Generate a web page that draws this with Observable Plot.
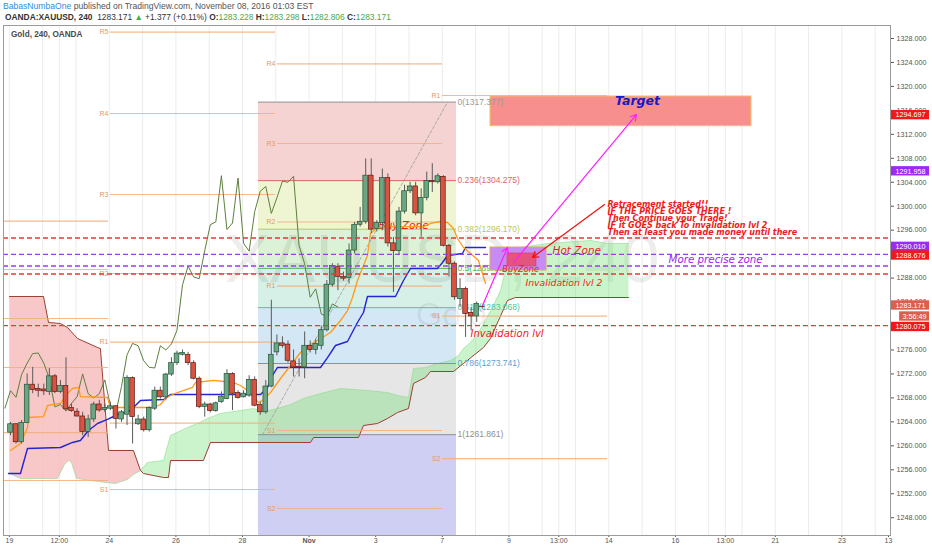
<!DOCTYPE html>
<html><head><meta charset="utf-8">
<script src="https://cdn.jsdelivr.net/npm/d3@7"></script>
<script src="https://cdn.jsdelivr.net/npm/@observablehq/plot@0.6"></script>
<style>
body{margin:0;background:#fff;font-family:"Liberation Sans",Arial,sans-serif;}
#wrap{position:relative;width:932px;height:550px;overflow:hidden;background:#fff}
#h1{position:absolute;left:3px;top:1px;font-size:8.6px;color:#555;white-space:nowrap}
#h2{position:absolute;left:5px;top:12px;font-size:8.4px;color:#333;white-space:nowrap}
#h2 .g{color:#3fae49}
#title{position:absolute;left:11px;top:30px;font-size:8.2px;font-weight:bold;color:#4a4a4a}
#chart{position:absolute;left:0;top:24px}
</style></head><body>
<div id="wrap">
 <div id="h1"><span style="color:#2a8fe0">BabasNumbaOne</span> published on TradingView.com, November 08, 2016 01:03 EST</div>
 <div id="h2"><b>OANDA:XAUUSD, 240</b>&nbsp; 1283.171 <span class="g">&#9650;</span> +1.377 (+0.11%) <b>O:</b><span class="g">1283.228</span> <b>H:</b><span class="g">1283.298</span> <b>L:</b><span class="g">1282.806</span> <b>C:</b><span class="g">1283.171</span></div>
 <div id="chart"></div>
 <div id="title">Gold, 240, OANDA</div>
</div>
<script>
// ---- candles (bar index = position in arrays) ----
const opens  = [1262.2,1263.6,1260.6,1263.8,1270.2,1269.5,1269.4,1269.0,1271.6,1269.0,1270.0,1266.3,1265.7,1264.9,1262.3,1264.4,1266.9,1266.0,1266.2,1266.6,1264.4,1265.2,1271.3,1263.6,1264.4,1262.6,1266.2,1269.2,1268.1,1271.9,1273.8,1275.2,1275.2,1273.8,1271.2,1266.5,1266.9,1265.8,1267.3,1267.8,1272.0,1268.8,1268.1,1268.4,1271.0,1266.8,1265.6,1269.9,1275.6,1277.1,1276.9,1274.1,1273.2,1273.1,1276.7,1276.0,1276.7,1279.3,1286.9,1289.9,1288.2,1288.0,1292.6,1296.9,1297.4,1305.1,1296.2,1297.2,1304.7,1293.8,1292.5,1299.1,1302.5,1303.3,1298.8,1301.4,1304.2,1304.0,1304.9,1293.4,1290.4,1284.5,1286.2,1282.2,1281.6,1283.228];
const highs  = [1263.9,1263.7,1264.2,1272.0,1273.1,1270.3,1270.3,1272.9,1271.9,1270.9,1274.7,1267.0,1266.2,1265.6,1265.1,1267.3,1267.6,1267.0,1267.3,1266.7,1265.9,1271.7,1271.5,1265.1,1264.8,1266.5,1269.8,1269.8,1272.1,1274.7,1275.8,1276.0,1275.6,1274.2,1271.5,1267.3,1267.1,1267.3,1269.0,1272.7,1272.2,1269.2,1269.2,1271.7,1271.5,1267.3,1270.9,1284.3,1278.5,1278.2,1277.5,1276.0,1274.5,1279.0,1277.5,1277.8,1280.0,1287.6,1290.4,1290.4,1289.0,1293.7,1297.3,1299.8,1307.9,1307.9,1297.6,1306.2,1305.4,1294.8,1299.8,1303.5,1304.0,1304.0,1302.9,1305.7,1307.1,1305.4,1305.1,1293.6,1290.7,1287.9,1286.5,1283.1,1284.0,1283.298];
const lows   = [1261.7,1260.3,1260.3,1263.7,1268.7,1268.1,1268.4,1268.4,1268.7,1268.7,1265.9,1265.6,1264.8,1261.7,1261.4,1263.9,1265.6,1265.6,1265.9,1262.8,1263.9,1263.4,1260.3,1263.4,1262.3,1262.3,1265.9,1267.8,1267.6,1271.6,1273.4,1275.0,1273.4,1271.0,1266.2,1264.8,1265.5,1265.6,1267.1,1267.7,1265.9,1267.8,1268.0,1268.1,1266.5,1265.1,1265.3,1269.7,1275.0,1276.3,1273.8,1271.5,1271.5,1271.2,1275.5,1275.2,1276.0,1279.0,1286.5,1285.9,1287.5,1287.0,1292.0,1296.5,1297.0,1295.4,1295.7,1295.9,1293.2,1285.6,1291.8,1298.7,1302.1,1298.4,1294.8,1300.9,1302.3,1303.7,1293.2,1288.2,1284.3,1283.1,1278.1,1279.2,1280.6,1282.806];
const closes = [1263.6,1260.6,1263.8,1270.2,1269.3,1269.2,1269.1,1271.6,1269.0,1270.0,1266.1,1265.8,1264.9,1262.3,1264.4,1266.9,1265.9,1266.3,1266.6,1264.5,1265.6,1271.3,1264.8,1264.4,1262.6,1266.3,1269.2,1268.1,1271.9,1273.8,1275.4,1275.5,1273.8,1271.2,1266.5,1266.9,1265.8,1267.1,1268.2,1272.0,1268.7,1268.0,1268.7,1271.0,1266.7,1265.6,1269.9,1275.2,1277.1,1276.7,1274.2,1273.1,1273.0,1276.7,1276.0,1277.0,1279.3,1286.9,1290.0,1288.2,1287.9,1292.6,1296.9,1297.4,1305.1,1296.1,1297.2,1304.7,1293.8,1292.5,1299.1,1302.5,1303.3,1298.8,1301.4,1304.2,1304.0,1305.0,1293.4,1290.4,1284.8,1286.2,1282.0,1281.6,1283.7,1283.171];

// ---- Ichimoku lines: [bar, price] ----
const tenkan = [[0,1259.22],[1.8,1260.39],[3.06,1263.06],[3.24,1264.73],[5.95,1264.89],[6.67,1266.73],[9.0,1267.07],[10.27,1268.73],[11.17,1269.57],[12.25,1269.74],[12.6,1268.23],[17.48,1268.07],[18.0,1266.4],[25.77,1266.4],[27.03,1266.9],[27.93,1267.9],[28.83,1268.4],[30.09,1268.9],[32.79,1269.74],[33.33,1270.57],[36.58,1270.91],[40.18,1270.57],[41.44,1270.07],[42.7,1269.24],[44.68,1267.23],[45.41,1267.57],[46.85,1268.9],[48.65,1271.24],[50.45,1273.41],[52.25,1275.58],[54.05,1276.92],[55.3,1277.58],[57.66,1278.92],[59.46,1280.92],[60.72,1282.59],[61.62,1284.76],[62.52,1287.6],[64.32,1291.77],[64.86,1295.45],[66.13,1296.45],[69.73,1296.61],[74.41,1296.61],[75.68,1297.12],[77.48,1297.45],[78.74,1297.28],[79.82,1296.28],[80.54,1294.61],[81.62,1293.11],[82.88,1292.11],[84.32,1290.94],[85.59,1287.1]];
const kijun = [[-0.36,1255.38],[1.8,1255.38],[3.06,1259.55],[9.0,1259.72],[11.17,1260.56],[12.6,1260.89],[14.05,1262.56],[15.68,1263.73],[17.48,1264.4],[19.28,1265.23],[21.62,1265.9],[23.42,1267.57],[27.57,1267.73],[28.83,1268.57],[45.05,1268.57],[46.31,1269.74],[47.21,1271.74],[48.11,1273.08],[55.86,1273.08],[57.12,1274.74],[58.56,1276.75],[60.72,1277.42],[62.52,1280.59],[63.6,1282.26],[64.32,1284.93],[69.37,1284.93],[70.81,1287.6],[72.07,1289.6],[76.94,1289.6],[77.84,1290.6],[78.74,1291.77],[81.44,1292.11],[81.98,1293.11],[85.59,1293.11]];
const redTop = [[-0.18,1284.93],[5.95,1284.93],[6.85,1280.59],[9.0,1280.42],[10.27,1279.75],[12.07,1277.92],[15.68,1276.41],[16.2,1276.25],[17.66,1259.22],[22.16,1259.22],[23.42,1255.88]];
const redBottom = [[-0.18,1255.38],[1.8,1254.54],[8.47,1254.54],[9.73,1256.9],[10.45,1257.55],[10.99,1257.2],[11.89,1254.54],[17.12,1253.88],[18.92,1253.71],[21.08,1254.38],[22.16,1255.21],[23.42,1255.88]];
const greenTop = [[23.42,1255.88],[24.68,1257.22],[27.57,1257.55],[28.83,1261.72],[31.89,1263.06],[33.69,1263.73],[35.5,1264.56],[37.84,1265.4],[40.18,1265.73],[43.78,1266.23],[45.59,1265.73],[48.11,1266.23],[50.45,1266.9],[52.79,1267.9],[55.86,1268.73],[59.46,1269.57],[64.32,1269.24],[67.93,1268.9],[69.73,1268.4],[71.71,1268.07],[72.61,1272.91],[74.77,1273.08],[76.94,1273.74],[79.28,1274.24],[80.72,1275.08],[81.62,1276.25],[82.88,1277.25],[84.32,1278.92],[86.85,1283.09],[88.29,1285.93],[89.19,1289.27],[90.09,1291.77],[91.89,1293.11],[96.76,1293.78],[104.5,1294.28],[107.57,1293.78],[111.35,1293.78]];
const greenBottom = [[23.42,1255.88],[23.96,1255.38],[27.57,1254.71],[28.47,1254.71],[28.83,1257.55],[34.77,1257.55],[36.04,1260.56],[54.05,1260.56],[54.6,1261.39],[62.7,1261.39],[63.6,1263.39],[66.13,1263.73],[67.93,1264.56],[69.73,1265.56],[71.71,1266.23],[72.61,1270.4],[74.77,1271.41],[75.68,1272.41],[79.82,1272.41],[81.62,1273.74],[85.23,1276.41],[86.49,1277.92],[87.93,1280.92],[89.55,1284.26],[90.99,1284.76],[111.35,1284.76]];

// ---- pivot points (weekly) ----
const weeks = [[-1.26,17.66],[18.0,47.75],[48.1,77.84],[77.84,107.57]];
const pivots = [
 {w:0,name:"",price:1297.5},{w:0,name:"",price:1289.44},{w:0,name:"",price:1281.26},{w:0,name:"",price:1273.08},{w:0,name:"",price:1262.22},{w:0,name:"",price:1254.21},
 {w:1,name:"R5",price:1329.08},{w:1,name:"R4",price:1315.48},{w:1,name:"R3",price:1301.96},{w:1,name:"R2",price:1288.77},{w:1,name:"R1",price:1277.3},{w:1,name:"",price:1263.78},{w:1,name:"S1",price:1252.71},
 {w:2,name:"R4",price:1323.78},{w:2,name:"R3",price:1310.47},{w:2,name:"R2",price:1297.37},{w:2,name:"R1",price:1286.65},{w:2,name:"S1",price:1262.56},{w:2,name:"S2",price:1249.54},
 {w:3,name:"R1",price:1318.48},{w:3,name:"S1",price:1281.64},{w:3,name:"S2",price:1257.88}
];

// ---- Fibonacci retracement ----
const fibRatios = [0,0.236,0.382,0.5,0.618,0.786,1,1.618];
const fibPrices = [1317.377,1304.275,1296.170,1289.619,1283.068,1273.741,1261.861,1227.55];
const fibSpan = [44.68,80.36];
const fibAnchor = [[45.41,1261.861],[78.74,1317.377]];
const fibLineColors = ["#9a9a9a","#e06666","#b5c95a","#58b85c","#4cc7a0","#5a9fd2","#8f8f8f"];
const fibBandColors = ["#f5d3d3","#eff5d2","#dcf2d8","#d6f0e7","#d3e7f4","#e6e6e6","#cfcff3"];

// ---- horizontal dashed levels ----
const hLevels = [1294.697,1291.958,1290.010,1288.676,1280.075];
const hKinds  = ["red","purple","purple","red","red"];

// ---- axes ----
const yTicks = d3.range(1248,1329,4);
const xTicks = [-0.2,8.8,17.8,29.8,41.8,53.8,65.8,77.8,89.8,98.8,107.8,119.8,128.8,137.8,149.8,158.2];
const xTickLabels = ["19","12:00","24","26","28","Nov","3","7","9","13:00","14","16","13:00","21","23","13"];
const gridBars = d3.range(-0.2,160,6).concat([8.8,98.8,128.8]);

// ---- price tags on the right scale ----
const tags = [
 {label:"1294.697",at:1315.2,kind:"red"},{label:"1291.958",at:1305.83,kind:"purple"},
 {label:"1290.010",at:1293.22,kind:"purple"},{label:"1288.676",at:1291.77,kind:"red"},
 {label:"1283.171",at:1283.43,kind:"last"},{label:"3:56:49",at:1281.59,kind:"timer"},
 {label:"1280.075",at:1279.84,kind:"red"}
];

// ---- drawings ----
const targetZone = {x1:86.49,x2:133.51,y1:1313.36,y2:1318.32};
const hotZone = {x1:86.49,x2:96.58,y1:1289.27,y2:1293.11};
const buyZone = {x1:89.55,x2:94.77,y1:1289.94,y2:1292.11};
const magentaArrows = [{x1:85.05,y1:1283.43,x2:89.55,y2:1293.11},{x1:90.63,y1:1290.6,x2:112.79,y2:1315.31}];
const redArrows = [{x1:107.03,y1:1300.29,x2:94.05,y2:1291.44}];
const notesRed = [
 {x:97.66,y:1292.61,text:"Hot Zone",size:10.5},
 {x:88.6,y:1289.5,text:"BuyZone",size:8.3},
 {x:92.79,y:1287.1,text:"Invalidation lvl 2",size:9.3},
 {x:82.88,y:1278.75,text:"Invalidation lvl",size:10}
];
const notePurple = {x:118.56,y:1291.1,text:"More precise zone"};
const noteFib = {x:66.3,y:1296.78,text:"Buy Zone"};
const retraceLines = ["Retracement started!!","IF THE PRICE GOES THERE !","Then Continue your Trade!","IF it GOES back To invalidation lvl 2","Then at least you made money until there"];
const retraceAt = {x:107.57,y:1297.95};
const targetLabel = {x:112.97,y:1317.6,text:"Target"};
const watermark = [{x:77.8,y:1290.9,text:"XAUUSD, 240",size:68},{x:79.5,y:1281.76,text:"Gold",size:34}];

// ---- build ----
const candles = opens.map((o,i)=>({i,o,h:highs[i],l:lows[i],c:closes[i]}));
const chikou = closes.slice(25).map((c,k)=>({x:k-1,y:c}));
const P = a => ({x:a[0],y:a[1]});
const redPoly = [...redTop, ...redBottom.slice().reverse()].map(P);
const greenPoly = [...greenTop, ...greenBottom.slice().reverse()].map(P);
const senkouB = [...redTop, ...greenBottom.slice(1)].map(P);
const senkouA = [...redBottom, ...greenTop.slice(1)].map(P);
const fibBands = fibPrices.slice(0,-1).map((p,k)=>({y1:p,y2:fibPrices[k+1],fill:fibBandColors[k]}));
const fibLines = fibPrices.slice(0,7).map((p,k)=>({p,r:fibRatios[k],color:fibLineColors[k]}));
const hColors = {red:"#e53935",purple:"#9a3bf0"};
const tagColors = {red:"#f01818",purple:"#9a2cf2",last:"#d9604c",timer:"#d9604c"};
const up = "#6ba583", down = "#d75442";
const xLab = new Map(xTicks.map((t,i)=>[t,xTickLabels[i]]));
const XR = 158.56, XTAG = 165.6;
const red = "#ec1c1c";

const chart = Plot.plot({
  width:932, height:526,
  marginLeft:3, marginRight:42, marginTop:1, marginBottom:15,
  x:{domain:[-1.26,XR], axis:null},
  y:{domain:[1245.03,1330.17], axis:null},
  color:{type:"identity"},
  style:{fontFamily:"Liberation Sans, Arial, sans-serif", fontSize:"8px", background:"transparent"},
  marks:[
    Plot.ruleX(gridBars,{stroke:"#ececec",strokeWidth:1}),
    Plot.rect(fibBands,{x1:fibSpan[0],x2:fibSpan[1],y1:"y1",y2:"y2",fill:"fill",clip:true}),
    Plot.text(watermark,{x:"x",y:"y",text:"text",fontSize:d=>d.size,fill:"#000",fillOpacity:0.07,fontFamily:"Liberation Sans, Arial, sans-serif"}),
    Plot.line(redPoly,{x:"x",y:"y",fill:"#f6b9b9",fillOpacity:0.8,stroke:"none"}),
    Plot.line(greenPoly,{x:"x",y:"y",fill:"#5fdc5f",fillOpacity:0.32,stroke:"none"}),
    Plot.line(senkouA,{x:"x",y:"y",stroke:"#8fd88f",strokeWidth:1,strokeOpacity:0.6}),
    Plot.line(senkouB,{x:"x",y:"y",stroke:"#9c3f32",strokeWidth:1}),
    Plot.ruleY(pivots,{y:"price",x1:d=>weeks[d.w][0],x2:d=>weeks[d.w][1],stroke:"#f1ae7c",strokeWidth:1.2,strokeOpacity:0.85}),
    Plot.text(pivots.filter(d=>d.name),{x:d=>weeks[d.w][0],y:"price",text:"name",textAnchor:"end",dx:-2,fontSize:7,fill:"#e39a66"}),
    Plot.ruleY(fibLines,{y:"p",x1:fibSpan[0],x2:fibSpan[1],stroke:"color",strokeWidth:1}),
    Plot.line(fibAnchor.map(P),{x:"x",y:"y",stroke:"#9a9a9a",strokeWidth:0.8,strokeDasharray:"3,2"}),
    Plot.rect([targetZone],{x1:"x1",x2:"x2",y1:"y1",y2:"y2",fill:"#f78f8f",stroke:"#f3c35a",strokeWidth:1}),
    Plot.text(fibLines,{x:fibSpan[1],y:"p",text:d=>`${d.r}(${d.p.toFixed(3)})`,textAnchor:"start",dx:1,fontSize:8.5,fill:"color"}),
    Plot.text([noteFib],{x:"x",y:"y",text:"text",textAnchor:"start",fontSize:10.5,fontStyle:"italic",fill:red,fontFamily:"DejaVu Sans"}),
    Plot.line(chikou,{x:"x",y:"y",stroke:"#5d7f3d",strokeWidth:1}),
    Plot.line(kijun.map(P),{x:"x",y:"y",stroke:"#2424d8",strokeWidth:1.4}),
    Plot.line(tenkan.map(P),{x:"x",y:"y",stroke:"#ff9a1a",strokeWidth:1.3}),
    Plot.ruleX(candles,{x:"i",y1:"l",y2:"h",stroke:"#5a5a5a",strokeWidth:1}),
    Plot.rect(candles,{x1:d=>d.i-0.42,x2:d=>d.i+0.42,y1:"o",y2:"c",fill:d=>d.c>=d.o?up:down,stroke:d=>d.c>=d.o?"#225437":"#5b1a13",strokeWidth:0.7}),
    Plot.ruleY(hLevels,{y:d=>d,stroke:(d,i)=>hColors[hKinds[i]],strokeWidth:1.4,strokeDasharray:"5,3"}),
    Plot.rect([hotZone],{x1:"x1",x2:"x2",y1:"y1",y2:"y2",fill:"#c58cf4",stroke:"#e0a46a",strokeWidth:1}),
    Plot.rect([buyZone],{x1:"x1",x2:"x2",y1:"y1",y2:"y2",fill:"#e4547c",stroke:"#e23a5a",strokeWidth:0.6}),
    Plot.arrow(magentaArrows,{x1:"x1",y1:"y1",x2:"x2",y2:"y2",stroke:"#ff1cff",strokeWidth:1.2,headLength:8}),
    Plot.arrow(redArrows,{x1:"x1",y1:"y1",x2:"x2",y2:"y2",stroke:"#f01010",strokeWidth:1.2,headLength:8}),
    Plot.text(notesRed,{x:"x",y:"y",text:"text",textAnchor:"start",fontSize:d=>d.size,fontStyle:"italic",fill:red,fontFamily:"DejaVu Sans"}),
    Plot.text([notePurple],{x:"x",y:"y",text:"text",textAnchor:"start",fontSize:10.3,fontStyle:"italic",fill:"#a024ec",fontFamily:"DejaVu Sans"}),
    Plot.text([retraceAt],{x:"x",y:"y",text:()=>retraceLines.join("\n"),textAnchor:"start",lineHeight:0.87,fontSize:8,fontStyle:"italic",fontWeight:"bold",fill:red,fontFamily:"DejaVu Sans"}),
    Plot.text([targetLabel],{x:"x",y:"y",text:"text",fontSize:12.5,fontStyle:"italic",fontWeight:"bold",fill:"#1818c8",fontFamily:"DejaVu Sans"}),
    Plot.axisY(yTicks,{anchor:"right",tickSize:3,tickPadding:3,tickFormat:d=>d.toFixed(3),fontSize:7.2,color:"#555"}),
    Plot.axisX(xTicks,{anchor:"bottom",tickSize:2,tickPadding:1,tickFormat:d=>xLab.get(d),fontSize:7,color:"#555"}),
    Plot.rect(tags,{x1:d=>d.kind==="timer"?160.2:158.7,x2:XTAG,y1:d=>d.at-0.78,y2:d=>d.at+0.78,fill:d=>tagColors[d.kind]}),
    Plot.text(tags,{x:d=>d.kind==="timer"?162.9:162.15,y:"at",text:"label",fill:"#fff",fontSize:7.2}),
    Plot.frame({stroke:"#9a9a9a"})
  ]
});
chart.querySelectorAll("text").forEach(t=>{ if(t.textContent==="Nov") t.setAttribute("font-weight","bold"); });
document.getElementById("chart").appendChild(chart);
</script>
</body></html>
